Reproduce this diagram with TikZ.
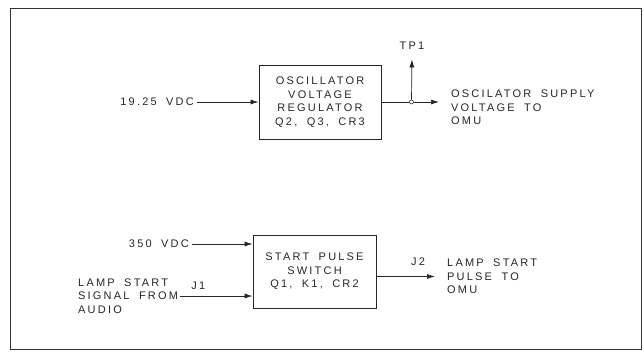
\documentclass[tikz,border=0pt]{standalone}
\usepackage{fontspec}
\setmainfont{Liberation Sans}[LetterSpace=20, WordSpace=1.8]
\usetikzlibrary{arrows.meta}

\begin{document}
\begin{tikzpicture}[x=1pt,y=-1pt,
    every node/.style={font=\fontsize{11}{13.5}\selectfont, text=black!85},
    block/.style={draw=black!85, line width=0.9pt, align=center, inner sep=0pt},
    sig/.style={draw=black!85, line width=0.7pt, -{Latex[length=8pt,width=5pt]}},
    wire/.style={draw=black!85, line width=0.7pt},
    inlabel/.style={anchor=east, inner sep=3pt},
    outlabel/.style={anchor=west, align=left, inner xsep=12pt, inner ysep=0pt},
    tag/.style={inner sep=0pt},
    junc/.style={circle, draw=black!85, fill=white, line width=0.6pt, inner sep=0pt, minimum size=4pt}]
    \useasboundingbox (0,0) rectangle (644,358);
    \draw[black!80, line width=1pt] (10,9) rectangle (641,349);

    % oscillator regulator
    \node[block, minimum width=122pt, minimum height=74pt] (reg) at (320,102)
        {OSCILLATOR\\VOLTAGE\\REGULATOR\\Q2, Q3, CR3};
    \node[inlabel] (in19) at (197,102) {19.25 VDC};
    \node[junc] (jn) at (411.5,102) {};
    \node[tag] (tp1) at (412,45.5) {TP1};
    \node[outlabel] (outosc) at (439,107.5) {OSCILATOR SUPPLY\\VOLTAGE TO\\OMU};

    \draw[sig] (in19) -- (reg);
    \draw[wire] (reg.east) -- (jn);
    \draw[sig] (jn) -- (jn -| outosc.west);
    \draw[sig, shorten >=10pt] (jn) -- (tp1.south);

    % start pulse switch
    \node[block, minimum width=123pt, minimum height=73pt] (sw) at (314.5,271.5)
        {START PULSE\\SWITCH\\Q1, K1, CR2};
    \node[inlabel] (in350) at (192,244) {350 VDC};
    \node[anchor=west, align=left, inner sep=2pt] (inlamp) at (76,296)
        {LAMP START\\SIGNAL FROM\\AUDIO};
    \node[outlabel] (outlamp) at (435,276.5) {LAMP START\\PULSE TO\\OMU};

    \draw[sig] (in350) -- (in350 -| sw.west);
    \draw[sig] (inlamp.east) -- (inlamp.east -| sw.west)
        node[tag, pos=0.25, above=6pt] (j1) {J1};
    \draw[sig] (outlamp.west -| sw.east) -- (outlamp.west)
        node[tag, pos=0.71, above=11pt] (j2) {J2};
\end{tikzpicture}
\end{document}
